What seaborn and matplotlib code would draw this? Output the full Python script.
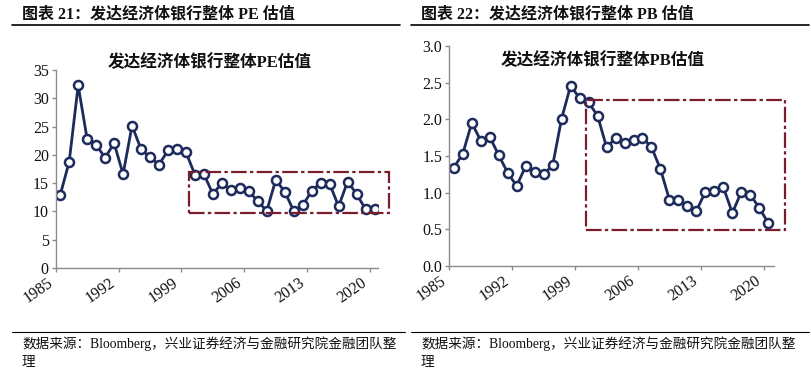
import matplotlib
matplotlib.use("Agg")
import matplotlib.pyplot as plt
import seaborn as sns
import pandas as pd
from matplotlib.patches import Rectangle
from matplotlib.lines import Line2D

years = list(range(1985, 2021))
pe_values = [12.9, 18.8, 32.3, 22.8, 21.8, 19.5, 22.1, 16.6, 25.2, 21.0, 19.6, 18.3,
             20.8, 21.1, 20.5, 16.5, 16.6, 13.1, 15.0, 13.8, 14.2, 13.6, 11.8, 10.1,
             15.6, 13.5, 10.1, 11.1, 13.6, 15.1, 14.9, 10.9, 15.3, 13.1, 10.4, 10.5]
pb_values = [1.34, 1.53, 1.95, 1.71, 1.76, 1.51, 1.27, 1.09, 1.36, 1.28, 1.25, 1.37,
             2.01, 2.46, 2.29, 2.23, 2.05, 1.62, 1.74, 1.68, 1.72, 1.75, 1.62, 1.32,
             0.90, 0.90, 0.81, 0.75, 1.01, 1.02, 1.07, 0.72, 1.01, 0.97, 0.79, 0.58]
tick_labels = ["1985", "1992", "1999", "2006", "2013", "2020"]

header_left = "图表 21：发达经济体银行整体 PE 估值"
header_right = "图表 22：发达经济体银行整体 PB 估值"
title_left = "发达经济体银行整体PE估值"
title_right = "发达经济体银行整体PB估值"
source_text = "数据来源：Bloomberg，兴业证券经济与金融研究院金融团队整"
source_tail = "理"

sns.set_style("white")
FAM = ["Liberation Serif", "Noto Sans CJK SC", "DejaVu Sans"]
plt.rcParams["font.family"] = FAM

df = pd.DataFrame({"year": years, "PE": pe_values, "PB": pb_values})

NAVY = "#1C2A5C"
BOX = "#7A1C2C"
AXC = "#8C8C8C"

fig = plt.figure(figsize=(8.11, 3.74), dpi=100)

ax1 = fig.add_axes([0.0687, 0.2834, 0.397, 0.529])
ax2 = fig.add_axes([0.554, 0.2896, 0.400, 0.587])


def style(ax, col, ylim, yticks, fmt, xr, box, title, tx, ty):
    sns.lineplot(data=df, x="year", y=col, ax=ax, color=NAVY, linewidth=2.0,
                 marker="o", markersize=6.5, markerfacecolor="white",
                 markeredgecolor=NAVY, markeredgewidth=1.8)
    ax.set_ylim(*ylim)
    ax.set_yticks(yticks)
    ax.set_yticklabels([fmt.format(v) for v in yticks])
    x0 = years[0] - 0.5
    ax.set_xlim(x0, x0 + xr)
    tpos = [int(t) - 0.5 for t in tick_labels]
    ax.set_xticks(tpos)
    ax.set_xticklabels(tick_labels, rotation=35, ha="right", rotation_mode="default")
    ax.set_xlabel("")
    ax.set_ylabel("")
    for s in ["top", "right"]:
        ax.spines[s].set_visible(False)
    for s in ["left", "bottom"]:
        ax.spines[s].set_color(AXC)
        ax.spines[s].set_linewidth(1.0)
    ax.tick_params(axis="both", which="major", length=3, width=1, color=AXC,
                   direction="out", labelsize=11.5, labelcolor="#111111", pad=2)
    ax.tick_params(axis="y", left=True)
    ax.tick_params(axis="x", bottom=True)
    bx0, bx1, by0, by1 = box
    rect = Rectangle((x0 + bx0, by0), bx1 - bx0, by1 - by0, fill=False,
                     edgecolor=BOX, linewidth=1.6, linestyle=(0, (7, 1.5, 1.5, 1.5)),
                     clip_on=False, zorder=5)
    ax.add_patch(rect)
    fig.text(tx, ty, title, fontsize=12, fontweight="bold", ha="center",
             va="center", family=FAM, color="#111111")


style(ax1, "PE", (0, 35), [0, 5, 10, 15, 20, 25, 30, 35], "{:.0f}", 35.85,
      (14.8, 37.1, 9.65, 17.06), title_left, 210 / 811, 1 - 63 / 374)
style(ax2, "PB", (0, 3.0), [0.0, 0.5, 1.0, 1.5, 2.0, 2.5, 3.0], "{:.1f}", 36.1,
      (15.26, 37.4, 0.49, 2.27), title_right, 603 / 811, 1 - 61 / 374)

# Headers
fig.text(22 / 811, 1 - 14 / 374, header_left, fontsize=11.5, fontweight="bold",
         ha="left", va="center", family=FAM, color="#111111")
fig.text(421 / 811, 1 - 14 / 374, header_right, fontsize=11.5, fontweight="bold",
         ha="left", va="center", family=FAM, color="#111111")
fig.add_artist(Line2D([12 / 811, 400 / 811], [1 - 24.5 / 374] * 2, color="black",
                      linewidth=1.2, transform=fig.transFigure))
fig.add_artist(Line2D([411 / 811, 809 / 811], [1 - 24.5 / 374] * 2, color="black",
                      linewidth=1.2, transform=fig.transFigure))

# Footer
fig.add_artist(Line2D([12 / 811, 405 / 811], [1 - 332 / 374] * 2, color="black",
                      linewidth=0.8, transform=fig.transFigure))
fig.add_artist(Line2D([411 / 811, 809 / 811], [1 - 332 / 374] * 2, color="black",
                      linewidth=0.8, transform=fig.transFigure))
for lx in (22 / 811, 421 / 811):
    fig.text(lx, 1 - 344 / 374, source_text, fontsize=9.8, ha="left", va="center",
             family=FAM, color="#111111")
    fig.text(lx, 1 - 362 / 374, source_tail, fontsize=9.8, ha="left", va="center",
             family=FAM, color="#111111")

fig.savefig("out.png", dpi=100)
